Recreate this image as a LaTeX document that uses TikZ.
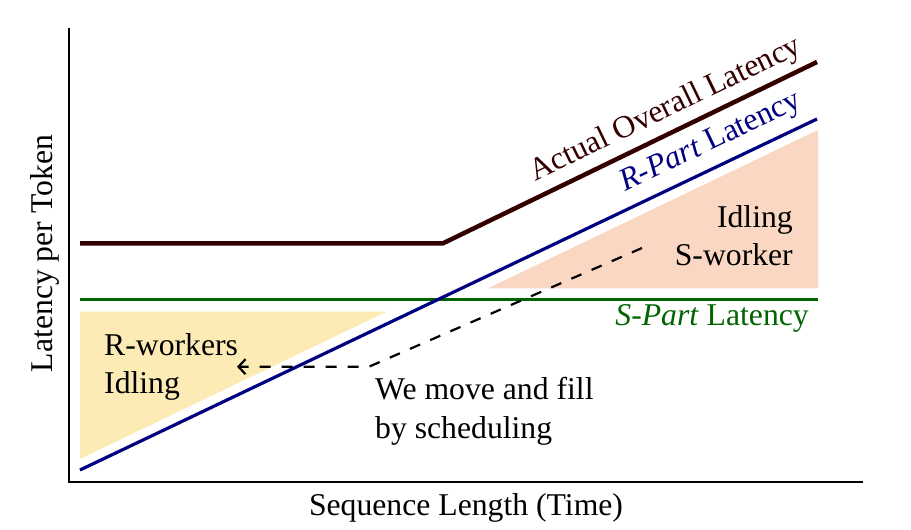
\documentclass[tikz,border=0pt]{standalone}
\usepackage{fontspec}
\setmainfont{Liberation Serif}
\usetikzlibrary{arrows.meta}
\definecolor{brownl}{HTML}{330000}
\definecolor{bluel}{HTML}{000080}
\definecolor{greenl}{HTML}{006400}
\definecolor{yellowf}{HTML}{FDEBB5}
\definecolor{peachf}{HTML}{F9D7C2}
\tikzset{
  axisline/.style={line width=2.2pt, black, line join=miter},
  actualline/.style={line width=4.5pt, brownl},
  rpartline/.style={line width=3.2pt, bluel},
  spartline/.style={line width=3.4pt, greenl},
  movearrow/.style={line width=2.2pt, black, dash pattern=on 11pt off 11pt, -{Straight Barb[length=7pt,width=15pt,line width=2.2pt]}},
  lbl/.style={inner sep=0pt, font=\fontsize{31.7}{38.5}\selectfont},
}
\begin{document}
\begin{tikzpicture}[x=1pt,y=-1pt]
\useasboundingbox (0,0) rectangle (911,530);
% idle areas
\fill[yellowf] (80,311.5) -- (387,311.5) -- (80,459) -- cycle;
\fill[peachf] (488,288.3) -- (818,288.3) -- (818,130) -- cycle;
% coordinates
\coordinate (ytop) at (69,28);
\coordinate (orig) at (69,481.7);
\coordinate (xend) at (863,481.7);
\coordinate (b0) at (80,243.3);
\coordinate (bk) at (443,243.3);
\coordinate (b1) at (817,62);
\coordinate (r0) at (80,470);
\coordinate (r1) at (817,119);
\coordinate (s0) at (80,299.5);
\coordinate (s1) at (817.5,299.5);
\coordinate (d1) at (642,248);
\coordinate (dk) at (369,366.7);
\coordinate (d0) at (237,366.7);
% lines
\draw[axisline] (ytop) -- (orig) -- (xend);
\draw[spartline] (s0) -- (s1);
\draw[rpartline] (r0) -- (r1);
\draw[actualline] (b0) -- (bk) -- (b1);
\draw[movearrow] (d1) -- (dk) -- (d0);
% labels
\node[lbl, anchor=base, rotate=90] (ylab) at (52,253.5) {Latency per Token};
\node[lbl, anchor=base] (xlab) at (466,515) {Sequence Length (Time)};
\node[lbl, anchor=base west, align=left] (rw) at (104,393.5) {R-workers\\Idling};
\node[lbl, anchor=base east, align=right] (sw) at (793,265.5) {Idling\\S-worker};
\node[lbl, anchor=base west, align=left] (mv) at (375,438) {We move and fill\\by scheduling};
\node[lbl, anchor=base east, text=greenl] (sp) at (809,325) {\textit{S-Part} Latency};
\node[lbl, anchor=base west, rotate=25.6, text=bluel] (rp) at (625,191.7) {\textit{R-Part} Latency};
\node[lbl, anchor=base west, rotate=25.8, text=brownl] (ac) at (535,181.7) {Actual Overall Latency};
\end{tikzpicture}
\end{document}
